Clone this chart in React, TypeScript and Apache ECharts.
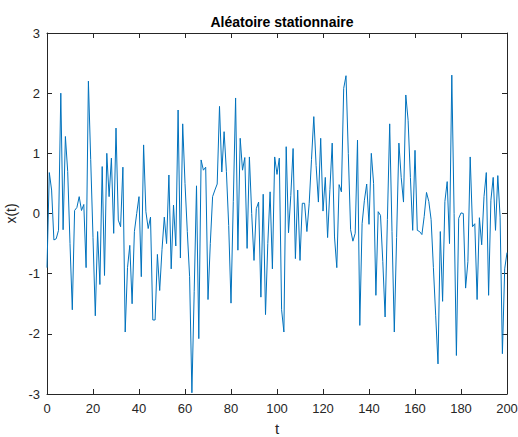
import React, { useEffect, useRef } from "react";
import * as echarts from "echarts";

const TITLE = "Aléatoire stationnaire";
const X_NAME = "t";
const Y_NAME = "x(t)";

// x(t) values for t = 0 .. 200
const values0to49 = [
  -0.9, 0.68, 0.39, -0.44, -0.42, -0.28, 2.0, -0.27, 1.28, 0.7,
  -0.5, -1.6, 0.05, 0.1, 0.28, 0.05, 0.15, -0.9, 2.2, 0.9,
  -0.4, -1.7, -0.3, -1.18, 0.78, -1.03, 1.0, 0.28, 0.92, -0.33,
  1.42, -0.11, -0.22, 0.77, -1.97, -0.9, -0.53, -1.5, -0.3, 0.0,
  0.28, -1.05, 1.14, 0.03, -0.25, -0.06, -1.77, -1.77, -0.68, -1.28,
];
const values50to99 = [
  -0.6, -0.06, -0.5, 0.64, -0.92, 0.14, -0.54, 1.72, -0.74, 1.49,
  0.5, -0.3, -1.05, -2.98, -1.3, 0.46, -2.08, 0.89, 0.72, 0.77,
  -1.43, -0.5, 0.28, 0.39, 0.49, 1.78, 0.69, 1.36, 0.7, -0.2,
  -1.49, 0.2, 1.92, -0.61, 1.25, 0.72, 0.93, -0.58, 0.94, 0.0,
  -0.78, 0.08, 0.19, -1.39, 0.32, -1.68, -0.5, 0.36, -0.92, 0.94,
];
const values100to149 = [
  0.65, 0.92, -1.6, -1.97, 1.11, -0.32, 0.3, 1.08, -0.75, 0.39,
  -0.78, 0.17, 0.17, -0.3, 0.17, 0.9, 1.61, 0.8, 0.19, 1.25,
  0.04, 0.6, -0.4, 0.4, 1.17, -0.39, -0.9, 0.48, 0.36, 2.08,
  2.29, 1.0, -0.27, -0.46, -0.33, 1.22, -1.86, -0.17, 0.22, 0.49,
  -0.18, 1.0, 0.5, -1.36, 0.03, -0.03, -0.8, -1.72, -0.1, 1.49,
];
const values150to200 = [
  -0.3, -1.97, -0.4, 1.17, 0.6, 0.19, 1.97, 1.55, 0.6, -0.28,
  1.05, -0.28, -0.3, -0.35, -0.05, 0.35, 0.2, -0.1, -0.9, -1.7,
  -2.5, -0.3, -1.46, 0.2, 0.53, -0.5, 2.3, 0.0, -2.36, -0.08,
  0.01, 0.0, -1.24, -0.8, 0.94, -0.22, -0.17, -1.43, -0.07, -0.52,
  0.28, 0.68, -1.36, 0.22, 0.6, -0.28, 0.63, -0.06, -2.33, -0.92,
  -0.65,
];

const X_MIN = 0;
const X_MAX = 200;
const X_STEP = 20;
const Y_MIN = -3;
const Y_MAX = 3;
const Y_STEP = 1;

const values = [...values0to49, ...values50to99, ...values100to149, ...values150to200];

export default function App() {
  const ref = useRef<HTMLDivElement>(null);

  useEffect(() => {
    if (!ref.current) return;
    const chart = echarts.init(ref.current, null, { renderer: "svg" });
    const axisColor = "#262626";
    const font = "'Liberation Sans', Arial, sans-serif";
    const data = values.map((v, i) => [i, v]);

    const baseAxisLine = { show: true, onZero: false, lineStyle: { color: axisColor, width: 1 } };
    const tick = { show: true, inside: true, length: 5, lineStyle: { color: axisColor, width: 1 } };

    chart.setOption({
      animation: false,
      backgroundColor: "#ffffff",
      title: {
        text: TITLE,
        left: 277,
        textAlign: "center",
        top: 10,
        textStyle: { fontFamily: font, fontSize: 14, fontWeight: "bold", color: "#000000" },
      },
      grid: { left: 47, right: 11, top: 33, bottom: 43, containLabel: false, outerBoundsMode: "none" },
      xAxis: [
        {
          type: "value",
          min: X_MIN,
          max: X_MAX,
          interval: X_STEP,
          position: "bottom",
          name: X_NAME,
          nameLocation: "middle",
          nameGap: 27,
          nameTextStyle: { fontFamily: font, fontSize: 15, color: axisColor },
          axisLine: baseAxisLine,
          axisTick: tick,
          axisLabel: { fontFamily: font, fontSize: 13, color: axisColor, margin: 8 },
          splitLine: { show: false },
        },
        {
          type: "value",
          min: X_MIN,
          max: X_MAX,
          interval: X_STEP,
          position: "top",
          axisLine: baseAxisLine,
          axisTick: tick,
          axisLabel: { show: false },
          splitLine: { show: false },
        },
      ],
      yAxis: [
        {
          type: "value",
          min: Y_MIN,
          max: Y_MAX,
          interval: Y_STEP,
          position: "left",
          name: Y_NAME,
          nameLocation: "middle",
          nameGap: 22,
          nameRotate: 90,
          nameTextStyle: { fontFamily: font, fontSize: 14, color: axisColor },
          axisLine: baseAxisLine,
          axisTick: tick,
          axisLabel: { fontFamily: font, fontSize: 13, color: axisColor, margin: 7 },
          splitLine: { show: false },
        },
        {
          type: "value",
          min: Y_MIN,
          max: Y_MAX,
          interval: Y_STEP,
          position: "right",
          axisLine: baseAxisLine,
          axisTick: tick,
          axisLabel: { show: false },
          splitLine: { show: false },
        },
      ],
      series: [
        {
          type: "line",
          xAxisIndex: 0,
          yAxisIndex: 0,
          data,
          showSymbol: false,
          symbol: "none",
          lineStyle: { color: "#0072BD", width: 1 },
          clip: true,
        },
      ],
    });

    return () => chart.dispose();
  }, []);

  return (
    <div
      ref={ref}
      style={{ position: "fixed", left: 0, top: 0, width: 518, height: 437, background: "#fff" }}
    />
  );
}
